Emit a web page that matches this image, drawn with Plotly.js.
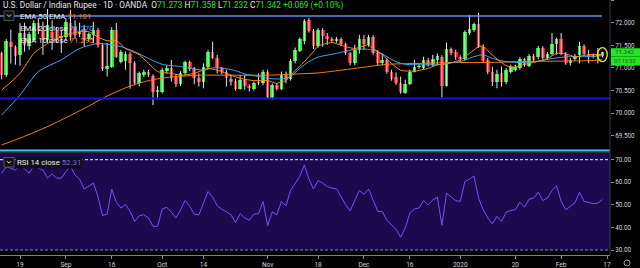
<!DOCTYPE html>
<html><head><meta charset="utf-8">
<script src="https://cdn.plot.ly/plotly-3.0.1.min.js"></script>
<style>html,body{margin:0;padding:0;background:#000;}#chart{width:640px;height:268px;}</style>
</head><body><div id="chart"></div>
<script>
// ---- DATA (USD/INR daily, OANDA) ----
const open = [71.33,70.85,71.58,71.47,71.29,71.77,71.48,71.62,72.00,71.82,71.62,71.80,71.82,71.66,71.68,71.99,71.90,71.75,71.87,71.63,
71.73,71.84,71.51,70.97,71.03,71.84,71.14,71.15,71.31,71.12,70.66,70.85,70.92,70.82,70.47,70.48,70.93,71.00,70.81,70.65,
70.89,71.13,70.99,70.77,70.70,71.03,71.36,71.21,70.99,70.92,70.76,70.72,70.54,70.74,70.61,70.54,70.70,70.66,70.92,70.33,
70.63,70.53,70.86,70.75,71.16,71.38,71.60,72.06,71.82,71.49,71.84,71.71,71.64,71.60,71.64,71.52,71.32,71.10,71.40,71.64,
71.51,71.68,71.36,71.10,71.18,70.92,70.79,70.66,70.45,70.64,70.92,71.02,71.00,71.18,71.07,71.18,71.24,70.61,71.41,71.36,
71.24,71.19,71.77,71.84,71.97,71.47,71.18,70.92,70.68,70.88,70.68,70.92,70.96,71.00,71.19,71.05,71.27,71.24,71.44,71.22,
71.31,71.53,71.64,71.31,71.10,71.20,71.29,71.49,71.30,71.29,71.26,71.273];
const high = [71.36,71.64,71.85,71.50,71.99,72.00,71.80,72.05,72.10,72.02,72.30,72.05,71.90,71.84,72.10,72.28,72.05,72.00,71.95,71.78,
72.02,71.88,71.55,71.55,71.90,71.99,71.40,71.36,71.35,71.15,70.92,70.96,70.96,70.86,70.60,71.00,71.05,71.18,70.85,70.93,
71.16,71.16,71.02,70.88,71.10,71.40,71.58,71.29,71.02,70.96,70.85,70.76,70.85,70.85,70.64,70.70,70.88,70.96,70.96,70.66,
70.66,70.92,70.92,71.20,71.45,71.67,72.08,72.10,71.86,71.88,71.88,71.77,71.68,71.68,71.67,71.56,71.35,71.51,71.73,71.73,
71.73,71.72,71.39,71.32,71.22,70.96,70.90,70.81,70.74,70.96,71.18,71.10,71.25,71.22,71.29,71.32,71.28,71.56,71.45,71.40,
71.28,71.83,72.17,72.00,72.22,71.52,71.22,71.03,70.96,71.03,71.00,71.07,71.07,71.24,71.22,71.31,71.31,71.49,71.48,71.35,
71.77,71.67,71.77,71.35,71.22,71.31,71.58,71.52,71.40,71.32,71.44,71.358];
const low = [70.75,70.80,71.10,71.07,71.05,71.36,71.40,71.58,71.75,71.29,71.55,71.40,71.55,71.33,71.62,71.60,71.65,71.68,71.48,71.58,
71.55,71.45,70.93,70.81,71.00,71.22,71.10,70.96,70.54,70.62,70.59,70.80,70.80,70.18,70.30,70.44,70.88,70.70,70.58,70.60,
70.85,70.93,70.64,70.59,70.55,71.00,71.20,70.88,70.86,70.59,70.61,70.50,70.52,70.52,70.48,70.50,70.62,70.62,70.31,70.30,
70.50,70.51,70.66,70.72,71.10,71.35,71.52,71.78,71.42,71.45,71.47,71.51,71.56,71.56,71.48,71.29,71.06,71.06,71.32,71.40,
71.47,71.29,71.06,71.06,70.87,70.72,70.63,70.43,70.43,70.62,70.90,70.98,70.97,71.03,71.03,71.07,70.35,70.59,71.28,71.18,
71.15,71.15,71.73,71.80,71.44,71.13,70.86,70.60,70.55,70.59,70.64,70.88,70.92,70.96,71.03,71.02,71.14,71.19,71.18,71.18,
71.28,71.29,71.28,71.07,71.05,71.16,71.10,71.27,71.10,71.22,71.10,71.232];
const close = [70.85,71.60,71.46,71.27,71.77,71.50,71.76,72.00,71.82,71.62,71.95,71.66,71.65,71.70,72.02,71.69,71.72,71.80,71.62,71.75,
71.84,71.51,70.97,71.04,71.84,71.25,71.36,71.31,71.10,70.66,70.88,70.92,70.85,70.48,70.52,70.96,71.01,70.78,70.65,70.89,
71.13,70.97,70.77,70.70,71.03,71.36,71.23,70.99,70.90,70.77,70.70,70.54,70.74,70.61,70.56,70.67,70.66,70.92,70.33,70.63,
70.53,70.84,70.74,71.16,71.40,71.63,72.04,71.82,71.49,71.84,71.71,71.63,71.60,71.64,71.52,71.32,71.10,71.40,71.63,71.52,
71.68,71.32,71.10,71.18,70.90,70.76,70.66,70.46,70.65,70.92,71.03,71.05,71.18,71.07,71.19,71.27,70.61,71.41,71.32,71.24,
71.19,71.79,71.85,71.97,71.47,71.16,70.90,70.70,70.87,70.68,70.96,71.03,71.03,71.19,71.07,71.27,71.18,71.44,71.22,71.31,
71.53,71.64,71.31,71.10,71.18,71.27,71.49,71.30,71.27,71.25,71.30,71.342];

const ema50X = [0,4,9,14,19,23,28,32,36,43,50,58,65,69,77,84,91,98,106,113,120,128,131];
const ema50 = [69.30,69.45,69.66,69.90,70.16,70.38,70.60,70.72,70.79,70.84,70.84,70.84,70.87,70.89,70.99,71.08,71.10,71.12,71.12,71.14,71.15,71.16,71.181];
const ema20X = [0,4,8,13,17,21,24,26,29,32,35,39,44,46,48,51,53,56,59,61,63,65,67,69,73,77,80,82,84,86,88,91,95,97,100,103,105,107,110,113,117,120,124,128,131];
const ema20 = [69.96,70.40,70.92,71.18,71.43,71.54,71.51,71.47,71.36,71.21,71.08,71.03,70.95,71.00,71.00,70.94,70.87,70.81,70.76,70.76,70.81,70.99,71.14,71.24,71.32,71.41,71.41,71.36,71.25,71.14,71.08,71.07,71.07,71.10,71.14,71.25,71.29,71.21,71.14,71.12,71.15,71.21,71.25,71.25,71.270];
const ema10X = [0,4,7,10,14,17,19,21,23,25,27,30,32,34,37,39,42,45,47,49,52,55,58,60,62,63,66,68,69,72,75,77,80,81,83,85,87,90,93,95,97,100,102,104,105,106,108,110,112,114,116,119,121,123,125,128,131];
const ema10 = [70.51,70.88,71.32,71.54,71.73,71.80,71.80,71.68,71.60,71.60,71.43,71.29,71.10,70.92,70.88,70.84,70.88,70.99,70.95,70.88,70.77,70.72,70.72,70.66,70.73,70.84,71.14,71.36,71.48,71.56,71.47,71.43,71.51,71.43,71.29,71.10,70.95,70.93,70.99,71.07,71.09,71.18,71.32,71.47,71.48,71.38,71.20,71.05,71.02,71.08,71.12,71.21,71.32,71.31,71.25,71.29,71.295];

const rsi = [64.0,66.9,66.2,65.4,67.7,65.7,64.0,67.2,66.2,65.4,
61.8,63.7,61.8,61.8,64.7,67.2,63.2,61.4,57.0,58.2,
59.6,53.7,45.3,45.9,57.0,51.1,48.6,50.1,47.1,42.7,
45.2,45.6,44.2,40.5,40.5,48.1,49.0,46.7,44.2,47.8,
51.9,49.3,45.9,45.6,50.8,55.9,53.4,49.6,48.1,46.7,
45.6,42.2,46.1,44.2,43.2,45.9,46.1,51.5,40.8,46.9,
45.6,51.5,49.6,56.4,59.6,62.6,67.7,61.4,57.0,60.8,
59.6,58.1,57.4,57.1,53.7,50.0,47.4,51.9,56.4,54.7,
57.0,52.2,47.1,47.1,43.1,41.2,39.2,35.7,39.7,46.3,
48.1,48.6,51.9,50.0,52.2,53.4,40.9,55.2,53.7,51.9,
51.5,60.3,61.4,62.8,52.9,47.8,44.2,41.6,44.9,42.7,
46.7,47.5,47.8,51.2,49.0,52.5,53.0,55.6,51.9,53.0,
56.4,58.4,51.5,47.8,49.3,50.8,55.6,51.5,51.1,50.5,
50.8,52.31];

const tickIndex = [4,14,24,35,44,58,69,79,89,100,112,122,132];
const tickText = ['19','Sep','16','Oct','14','Nov','18','Dec','16','2020','20','Feb','17'];
const levels = [72.147, 70.326];   // drawn horizontal lines
const levelEnd = [130.9, null];
const change = '+0.069 (+0.10%)';
const countdown = '07:13:52';

// ---- BUILD ----
const N = close.length;
const idx = close.map((_, i) => i);
const W = 640, H = 268, ML = 0, MR = 30, MT = 0, MB = 13;
const PW = W - ML - MR, PH = H - MT - MB;
const px = x => x / PW;
const py = y => 1 - y / PH;

const GREEN = '#1ee81e', RED = '#f01616';
const isUp = close.map((c, i) => c >= open[i]);

const wx = [], wy = [];
for (let i = 0; i < N; i++) { wx.push(i, i, null); wy.push(low[i], high[i], null); }

const traces = [
  { type: 'scatter', mode: 'lines', x: wx, y: wy, xaxis: 'x', yaxis: 'y',
    line: { color: '#e6e4ff', width: 1 }, hoverinfo: 'skip', connectgaps: false },
  { type: 'bar', x: idx, y: close.map((c, i) => Math.max(Math.abs(c - open[i]), 0.012)),
    base: close.map((c, i) => Math.min(c, open[i])), width: 0.8,
    marker: { color: isUp.map(u => u ? GREEN : RED), line: { width: 0 } },
    xaxis: 'x', yaxis: 'y', hoverinfo: 'skip' },
  { type: 'scatter', mode: 'lines', x: ema50X, y: ema50, line: { color: '#f57c1f', width: 1, shape: 'spline', smoothing: 0.6 }, xaxis: 'x', yaxis: 'y', hoverinfo: 'skip' },
  { type: 'scatter', mode: 'lines', x: ema20X, y: ema20, line: { color: '#3fa9f5', width: 1, shape: 'spline', smoothing: 0.6 }, xaxis: 'x', yaxis: 'y', hoverinfo: 'skip' },
  { type: 'scatter', mode: 'lines', x: ema10X, y: ema10, line: { color: '#ff8c1a', width: 1, shape: 'spline', smoothing: 0.6 }, xaxis: 'x', yaxis: 'y', hoverinfo: 'skip' },
  { type: 'scatter', mode: 'lines', x: idx, y: rsi, line: { color: '#7452ff', width: 1 }, xaxis: 'x', yaxis: 'y2', hoverinfo: 'skip' }
];

const FONT = 'Roboto, "Liberation Sans", sans-serif';
const AX = '#d1d4dc';

const priceTop = 72.50, priceBot = 72.50 - 150 / 45.3;
const shapes = [
  { type: 'rect', xref: 'paper', yref: 'y2', x0: 0, x1: 1, y0: 30, y1: 73.2, fillcolor: '#1c0a4f', line: { width: 0 }, layer: 'below' },
  { type: 'line', xref: 'paper', yref: 'y2', x0: 0, x1: 1, y0: 70, y1: 70, line: { color: '#f0f0f6', width: 1, dash: '3px,2px' } },
  { type: 'line', xref: 'paper', yref: 'y2', x0: 0, x1: 1, y0: 30, y1: 30, line: { color: '#8a7cf0', width: 1, dash: '3px,2px' } },
  { type: 'line', xref: 'x', yref: 'y', x0: -1, x1: levelEnd[0], y0: levels[0], y1: levels[0], line: { color: '#5b8ff0', width: 1.5 } },
  { type: 'line', xref: 'paper', yref: 'y', x0: 0, x1: 1, y0: levels[1], y1: levels[1], line: { color: '#1414ee', width: 1.8 } },
  { type: 'line', xref: 'paper', yref: 'paper', x0: 0, x1: 1, y0: py(150.5), y1: py(150.5), line: { color: '#36c6f4', width: 2 } },
  { type: 'line', xref: 'paper', yref: 'paper', x0: 0, x1: 1, y0: py(152.5), y1: py(152.5), line: { color: '#2a2e39', width: 1 } },
  { type: 'line', xref: 'paper', yref: 'paper', x0: 1, x1: 1, y0: 0, y1: 1, line: { color: '#363a45', width: 1 } },
  { type: 'circle', xref: 'x', yref: 'y', x0: N - 1 - 1.05, x1: N - 1 + 1.05,
    y0: (high[N-1] + low[N-1]) / 2 - 0.155, y1: (high[N-1] + low[N-1]) / 2 + 0.155,
    line: { color: '#f5e12a', width: 1.3 } },
  { type: 'rect', xref: 'paper', yref: 'y', x0: px(611), x1: px(640), y0: close[N-1] - 0.093, y1: close[N-1] + 0.093, fillcolor: '#22e622', line: { width: 0 } },
  { type: 'rect', xref: 'paper', yref: 'y', x0: px(611), x1: px(640), y0: close[N-1] - 0.29, y1: close[N-1] - 0.098, fillcolor: '#22e622', line: { width: 0 } },
  { type: 'rect', xref: 'paper', yref: 'paper', x0: px(4), x1: px(14), y0: py(20.5), y1: py(11), line: { color: '#50535e', width: 1 }, fillcolor: '#111' },
  { type: 'path', xref: 'paper', yref: 'paper', path: `M ${px(7)} ${py(14.6)} L ${px(9)} ${py(16.6)} L ${px(11)} ${py(14.6)}`, line: { color: '#e0e0e0', width: 1 } },
  { type: 'rect', xref: 'paper', yref: 'paper', x0: px(4), x1: px(14), y0: py(167), y1: py(157.5), line: { color: '#50535e', width: 1 }, fillcolor: '#111' },
  { type: 'path', xref: 'paper', yref: 'paper', path: `M ${px(7)} ${py(161.2)} L ${px(9)} ${py(163.2)} L ${px(11)} ${py(161.2)}`, line: { color: '#e0e0e0', width: 1 } },
  { type: 'circle', xref: 'paper', yref: 'paper', x0: px(624), x1: px(630), y0: py(266), y1: py(260), line: { color: '#9598a1', width: 1 } }
];

const g = s => `<span style="color:#22e622">${s}</span>`;
const ann = (x, y, text, size, color, extra) => Object.assign({ xref: 'paper', yref: 'paper', x: px(x), y: py(y), text, showarrow: false, xanchor: 'left', yanchor: 'middle', font: { family: FONT, size, color } }, extra || {});

const annotations = [
  ann(1, 5.5, `U.S. Dollar / Indian Rupee · 1D · OANDA  O${g(open[N-1].toFixed(3))} H${g(high[N-1].toFixed(3))} L${g(low[N-1].toFixed(3))} C${g(close[N-1].toFixed(3))} ${g(change)}`, 8.3, '#e8e8ee'),
  ann(17.5, 16, `EMA 50 EMA <span style="color:#f57c1f">${ema50[ema50.length-1].toFixed(3)}</span>`, 7.8, '#f0f0f0'),
  ann(17.5, 28.7, `EMA 20 close <span style="color:#3fa9f5">${ema20[ema20.length-1].toFixed(3)}</span>`, 7.8, '#f0f0f0'),
  ann(17.5, 40.7, `EMA 10 close <span style="color:#ff8c1a">${ema10[ema10.length-1].toFixed(3)}</span>`, 7.8, '#f0f0f0'),
  ann(15, 162.3, `RSI 14 close <span style="color:#7a62ff">${rsi[N-1].toFixed(2)}</span>`, 7.8, '#f0f0f0', { bgcolor: '#0e0d1a', borderpad: 1 }),
  Object.assign(ann(625.5, 0, close[N-1].toFixed(3), 6.2, '#1a5c1a'), { xanchor: 'center', yref: 'y', y: close[N-1] }),
  Object.assign(ann(625.5, 0, countdown, 5.6, '#1a5c1a'), { xanchor: 'center', yref: 'y', y: close[N-1] - 0.194 })
];

const layout = {
  width: W, height: H, margin: { l: ML, r: MR, t: MT, b: MB, pad: 0 },
  paper_bgcolor: '#000', plot_bgcolor: '#000', showlegend: false, bargap: 0,
  font: { family: FONT, color: AX },
  xaxis: { domain: [0, 1], range: [-0.362, 132.65], anchor: 'y2', tickvals: tickIndex, ticktext: tickText,
    ticks: 'outside', ticklen: 3, tickcolor: '#8a8da0', showline: true, linecolor: '#7b7e95', linewidth: 1,
    showgrid: false, zeroline: false, tickfont: { family: FONT, size: 6.5, color: AX }, fixedrange: true },
  yaxis: { domain: [1 - 150 / PH, 1], range: [priceBot, priceTop], side: 'right', anchor: 'x',
    tickvals: [69.5, 70, 70.5, 71, 71.5, 72, 72.5], tickformat: '.3f', ticks: 'outside', ticklen: 3, tickcolor: '#8a8da0',
    showgrid: false, zeroline: false, showline: false, tickfont: { family: FONT, size: 6.3, color: AX }, fixedrange: true },
  yaxis2: { domain: [0, (PH - 152.5) / PH], range: [30 - 5 / 2.26, 70 + 7.2 / 2.26], side: 'right', anchor: 'x',
    tickvals: [30, 40, 50, 60, 70], tickformat: '.2f', ticks: 'outside', ticklen: 3, tickcolor: '#8a8da0',
    showgrid: false, zeroline: false, showline: false, tickfont: { family: FONT, size: 6.3, color: AX }, fixedrange: true },
  shapes, annotations
};

Plotly.newPlot('chart', traces, layout, { staticPlot: true, displayModeBar: false });
</script></body></html>
